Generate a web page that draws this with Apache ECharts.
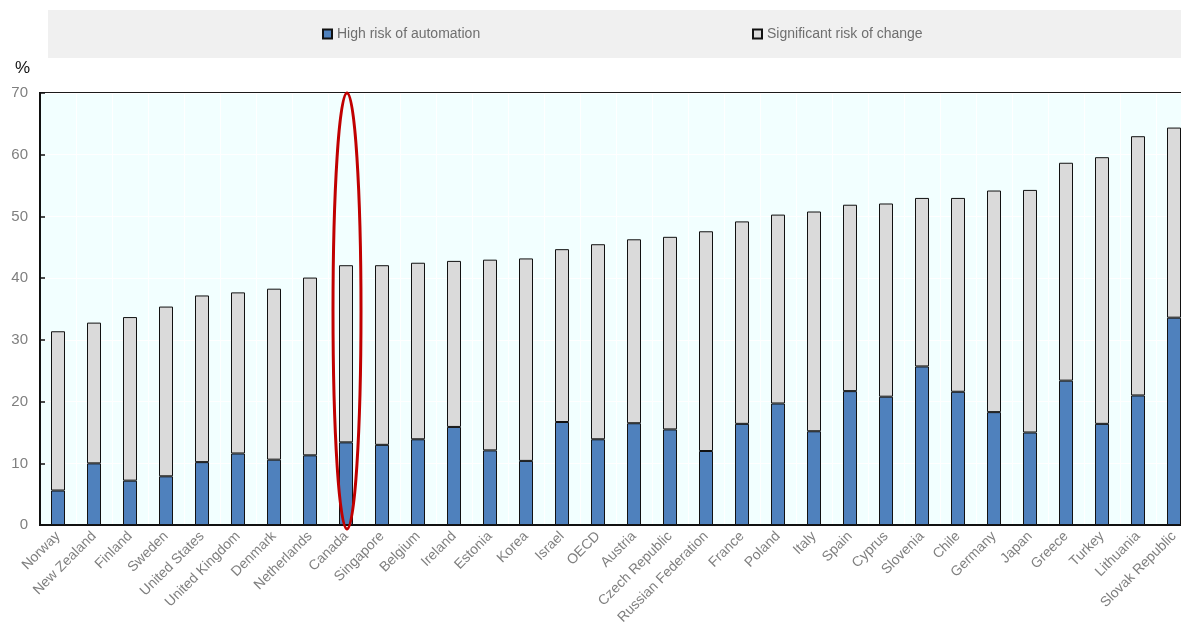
<!DOCTYPE html>
<html>
<head>
<meta charset="utf-8">
<script src="https://cdn.jsdelivr.net/npm/echarts@6/dist/echarts.min.js"></script>
<style>
  html, body { margin: 0; padding: 0; background: #ffffff; overflow: hidden; }
  /* plot runs past the right edge of the window, as in the source figure */
  #chart { width: 1200px; height: 627px; }
</style>
</head>
<body>
<div id="chart"></div>
<script>
const countries = [
  'Norway', 'New Zealand', 'Finland', 'Sweden', 'United States', 'United Kingdom',
  'Denmark', 'Netherlands', 'Canada', 'Singapore', 'Belgium', 'Ireland', 'Estonia',
  'Korea', 'Israel', 'OECD', 'Austria', 'Czech Republic', 'Russian Federation',
  'France', 'Poland', 'Italy', 'Spain', 'Cyprus', 'Slovenia', 'Chile', 'Germany',
  'Japan', 'Greece', 'Turkey', 'Lithuania', 'Slovak Republic',
]

// % of jobs at high risk of automation
const highRisk = [
  5.6, 10.0, 7.2, 7.9, 10.2, 11.6, 10.6, 11.3, 13.4, 13.0, 13.9, 15.9, 12.1,
  10.4, 16.7, 13.9, 16.5, 15.5, 12.0, 16.4, 19.7, 15.2, 21.7, 20.8, 25.7, 21.6,
  18.3, 15.0, 23.4, 16.4, 21.0, 33.6,
]

// total at risk (high risk + significant change), stacked top
const totalRisk = [
  31.4, 32.8, 33.7, 35.4, 37.2, 37.7, 38.3, 40.1, 42.1, 42.1, 42.5, 42.8, 43.0,
  43.2, 44.7, 45.5, 46.3, 46.7, 47.6, 49.2, 50.3, 50.8, 51.9, 52.1, 53.0, 53.0,
  54.2, 54.3, 58.7, 59.6, 63.0, 64.4,
]

const significantChange = totalRisk.map((t, i) => +(t - highRisk[i]).toFixed(1))

const yTicks = { min: 0, max: 70, interval: 10 }
const highlighted = 'Canada'

const font = "'Liberation Sans', Arial, sans-serif"
const grey = '#7f7f7f'

const chart = echarts.init(document.getElementById('chart'), null, { renderer: 'canvas' })

const legendText = { color: '#6f6f6f', fontSize: 14, fontFamily: font }

chart.setOption({
  animation: false,
  grid: {
    left: 40,
    top: 93,
    width: 1152,
    height: 436,
    show: true,
    backgroundColor: '#f2ffff',
    borderColor: '#1a1a1a',
    borderWidth: 2,
  },
  legend: [
    {
      data: ['High risk of automation'],
      left: 322,
      top: 27,
      padding: 0,
      itemWidth: 9,
      itemHeight: 9,
      itemGap: 3,
      icon: 'rect',
      textStyle: legendText,
    },
    {
      data: ['Significant risk of change'],
      left: 752,
      top: 27,
      padding: 0,
      itemWidth: 9,
      itemHeight: 9,
      itemGap: 3,
      icon: 'rect',
      textStyle: legendText,
    },
  ],
  xAxis: {
    type: 'category',
    data: countries,
    axisLine: { lineStyle: { color: '#111111', width: 2 } },
    axisTick: { inside: true, length: 5, lineStyle: { color: '#111111', width: 1.5 } },
    splitLine: { show: true, lineStyle: { color: '#ffffff', width: 1 } },
    axisLabel: {
      interval: 0,
      rotate: 45,
      margin: 9,
      color: grey,
      fontSize: 14,
      fontFamily: font,
    },
  },
  yAxis: {
    type: 'value',
    min: yTicks.min,
    max: yTicks.max,
    interval: yTicks.interval,
    name: '%',
    nameLocation: 'end',
    nameGap: 16,
    nameTextStyle: { color: '#111111', fontSize: 17, fontFamily: font, align: 'right', padding: [0, 10, 0, 0] },
    axisLine: { show: true, lineStyle: { color: '#111111', width: 2 } },
    axisTick: { show: true, inside: true, length: 5, lineStyle: { color: '#111111', width: 1.5 } },
    splitLine: { show: true, lineStyle: { color: '#ffffff', width: 1 } },
    axisLabel: { color: grey, fontSize: 15, fontFamily: font, margin: 12 },
  },
  series: [
    {
      name: 'High risk of automation',
      type: 'bar',
      stack: 'risk',
      barWidth: 14,
      data: highRisk,
      itemStyle: { color: '#4f81bd', borderColor: '#111111', borderWidth: 1 },
    },
    {
      name: 'Significant risk of change',
      type: 'bar',
      stack: 'risk',
      barWidth: 14,
      data: significantChange,
      itemStyle: { color: '#dadada', borderColor: '#111111', borderWidth: 1 },
    },
  ],
})

// legend band and highlight ellipse, placed through the chart's own axes
const cx = chart.convertToPixel({ xAxisIndex: 0 }, highlighted)
const yTop = chart.convertToPixel({ yAxisIndex: 0 }, yTicks.max)
const yBottom = chart.convertToPixel({ yAxisIndex: 0 }, yTicks.min)

chart.setOption({
  graphic: [
    {
      type: 'rect',
      z: -1,
      silent: true,
      shape: { x: 48, y: 10, width: 1152, height: 48 },
      style: { fill: '#f0f0f0' },
    },
    {
      type: 'ellipse',
      z: 100,
      silent: true,
      shape: { cx: cx + 1, cy: (yTop + yBottom) / 2 + 2, rx: 14, ry: (yBottom - yTop) / 2 + 2 },
      style: { fill: 'none', stroke: '#c00000', lineWidth: 3 },
    },
  ],
})
</script>
</body>
</html>
